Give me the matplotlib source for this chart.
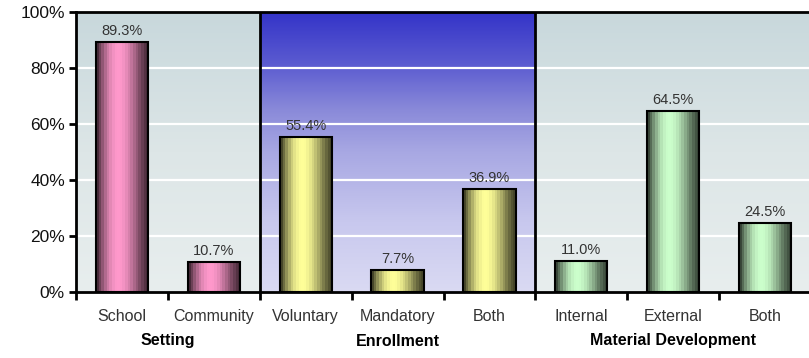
import numpy as np
import matplotlib.pyplot as plt
import matplotlib.transforms as mtransforms
from matplotlib.colors import LinearSegmentedColormap

# ── Données ──────────────────────────────────────────────────────────────────
categories = ["School", "Community", "Voluntary", "Mandatory", "Both",
              "Internal", "External", "Both"]
values     = [89.3, 10.7, 55.4, 7.7, 36.9, 11.0, 64.5, 24.5]
groups     = ["Setting", "Enrollment", "Material Development"]
group_size = [2, 3, 3]
bar_colors = [(255, 153, 204), (255, 255, 153), (204, 255, 204)]

FONT_MAIN = ["Liberation Sans", "DejaVu Sans"]

fig = plt.figure(figsize=(8.09, 3.58), dpi=100)
ax = fig.add_axes([76 / 809, 66 / 358, 735 / 809, 280 / 358])

n = len(categories)
x = np.arange(n)

# ── Fonds dégradés par groupe ────────────────────────────────────────────────
gray_cmap = LinearSegmentedColormap.from_list(
    "gray_bg", ["#e8eeee", "#dde6e7", "#c8d8dc"])
blue_cmap = LinearSegmentedColormap.from_list(
    "blue_bg", [(0.0, "#dadaf3"), (0.25, "#c8c8ee"), (0.5, "#a8a8e3"),
                (0.65, "#8a8ad9"), (0.82, "#5a5ad0"), (1.0, "#3434c8")])
vgrad = np.linspace(0, 1, 256).reshape(-1, 1)

start = 0
for gi, size in enumerate(group_size):
    cmap = blue_cmap if gi == 1 else gray_cmap
    ax.imshow(vgrad, extent=(start - 0.5, start + size - 0.5, 0, 100),
              origin="lower", cmap=cmap, aspect="auto", zorder=0)
    start += size

# lignes de grille blanches
for yv in [20, 40, 60, 80]:
    ax.axhline(yv, color="white", lw=1.6, zorder=1)

# séparateurs de groupes
bounds = np.cumsum(group_size)[:-1] - 0.5
for b in bounds:
    ax.plot([b, b], [0, 100], color="black", lw=2, zorder=2)

# ── Barres cylindriques ──────────────────────────────────────────────────────
bar_fc = []
for size, col in zip(group_size, bar_colors):
    bar_fc += [np.array(col) / 255] * size

bars = ax.bar(x, values, width=0.57, color="none", edgecolor="black",
              linewidth=1.5, zorder=4)

# profil d'ombrage : bords sombres, reflet clair un peu à gauche du centre
t = np.linspace(0, 1, 20)
shade = 0.28 + 0.72 * np.clip(np.sin(np.pi * (t ** 0.8)), 0, 1) ** 1.3

for bar, fc, v in zip(bars, bar_fc, values):
    grad = (shade[:, None] * fc[None, :])[None, :, :]
    x0, w = bar.get_x(), bar.get_width()
    im = ax.imshow(grad, extent=(x0, x0 + w, 0, v), aspect="auto",
                   interpolation="nearest", zorder=3)
    im.set_clip_path(bar)
    ax.annotate(f"{v:.1f}%", (x0 + w / 2, v), xytext=(0, 3),
                textcoords="offset points", ha="center", va="bottom",
                fontsize=10.5, color="#333333", family=FONT_MAIN)

ax.set_xlim(-0.5, n - 0.5)
ax.set_ylim(0, 100)

# ── Axes ─────────────────────────────────────────────────────────────────────
for side in ["left", "bottom", "top"]:
    ax.spines[side].set_linewidth(2)
    ax.spines[side].set_color("black")
ax.spines["right"].set_visible(False)

ax.set_yticks([0, 20, 40, 60, 80, 100])
ax.set_yticklabels([f"{v}%" for v in [0, 20, 40, 60, 80, 100]],
                   fontsize=12.5, family=FONT_MAIN, color="#111111")
ax.tick_params(axis="y", direction="out", length=5, width=2, pad=3)

ax.set_xticks(x)
ax.set_xticklabels(categories, fontsize=11.5, family=FONT_MAIN,
                   color="#333333")
ax.set_xticks(np.arange(-0.5, n, 1.0), minor=True)
ax.tick_params(axis="x", which="major", length=0, pad=12)
ax.tick_params(axis="x", which="minor", direction="out", length=6, width=2)

# libellés de groupe
trans = mtransforms.blended_transform_factory(ax.transData, ax.transAxes)
start = 0
for name, size in zip(groups, group_size):
    ax.text(start + (size - 1) / 2, -0.175, name, transform=trans,
            ha="center", va="center", fontsize=11.5, fontweight="bold",
            family=FONT_MAIN, color="black")
    start += size

fig.savefig("out.png", dpi=100)
